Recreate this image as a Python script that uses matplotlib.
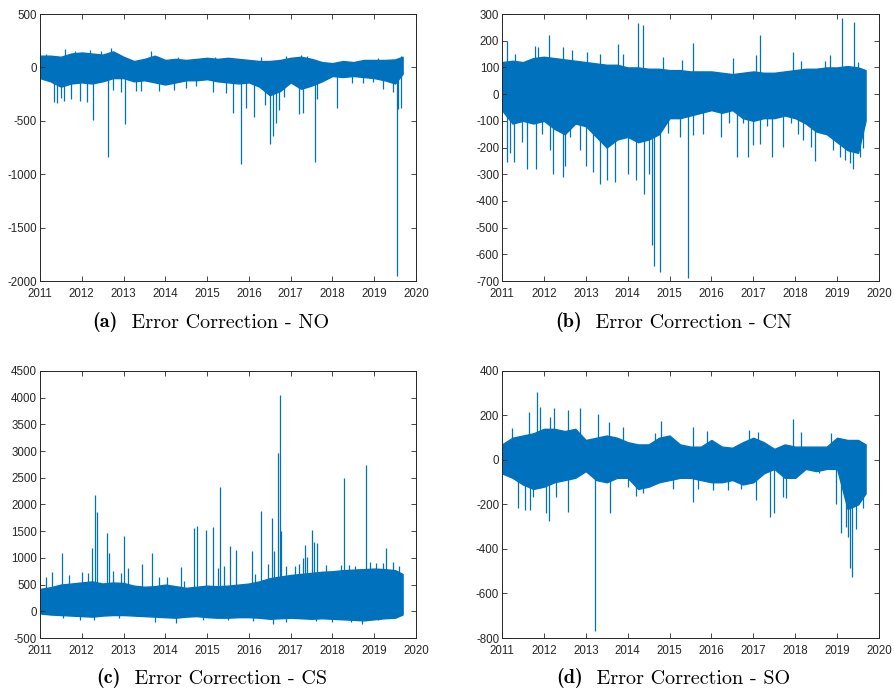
import matplotlib
matplotlib.use("Agg")
import matplotlib.pyplot as plt

plt.rcParams["font.family"] = ["Liberation Sans", "DejaVu Sans"]
plt.rcParams["axes.unicode_minus"] = False

BLUE = "#0072BD"

# quarterly grid for the dense core of each series (decimal years)
band_t = [2011.0, 2011.25, 2011.5, 2011.75, 2012.0, 2012.25, 2012.5, 2012.75,
          2013.0, 2013.25, 2013.5, 2013.75, 2014.0, 2014.25, 2014.5, 2014.75,
          2015.0, 2015.25, 2015.5, 2015.75, 2016.0, 2016.25, 2016.5, 2016.75,
          2017.0, 2017.25, 2017.5, 2017.75, 2018.0, 2018.25, 2018.5, 2018.75,
          2019.0, 2019.25, 2019.5, 2019.68]

# (a) NO
no_upper = [110, 110, 100, 130, 140, 130, 120, 150, 100, 60, 80, 110, 70, 80, 70, 80,
            90, 80, 90, 80, 70, 60, 60, 70, 90, 100, 80, 50, 40, 60, 50, 70, 70, 70, 75, 100]
no_lower = [-100, -130, -180, -150, -140, -150, -130, -100, -100, -130, -120, -140,
            -160, -140, -120, -120, -110, -130, -140, -150, -140, -180, -260, -220,
            -140, -200, -170, -130, -80, -90, -80, -90, -100, -120, -150, -60]
no_spike_t = [2011.33, 2011.41, 2011.51, 2011.57, 2011.75, 2011.97, 2012.12, 2012.27,
              2012.62, 2012.75, 2012.93, 2013.04, 2013.3, 2013.42, 2013.85, 2014.2,
              2014.5, 2014.73, 2015.15, 2015.45, 2015.61, 2015.82, 2015.93, 2016.13,
              2016.39, 2016.5, 2016.58, 2016.66, 2016.73, 2016.85, 2017.2, 2017.3,
              2017.58, 2017.64, 2018.12, 2018.48, 2018.72, 2018.96, 2019.2, 2019.44,
              2019.55, 2019.58, 2019.64,
              2011.15, 2011.6, 2011.85, 2012.2, 2012.45, 2012.7, 2012.9, 2013.65,
              2014.3, 2015.2, 2016.3, 2016.9, 2017.25, 2017.4, 2019.1, 2019.65]
no_spike_v = [-320, -330, -290, -310, -300, -310, -320, -495,
              -840, -210, -230, -530, -220, -225, -220, -210,
              -190, -170, -230, -240, -430, -900, -380, -460,
              -350, -720, -640, -520, -400, -280, -440, -430,
              -885, -300, -380, -150, -150, -140, -200, -230,
              -1950, -390, -380,
              130, 170, 150, 165, 150, 180, 130, 155,
              100, 100, 100, 110, 115, 110, 90, 110]

# (b) CN
cn_upper = [120, 125, 120, 135, 140, 135, 130, 125, 120, 115, 110, 110, 100, 100, 95, 95,
            90, 90, 85, 85, 85, 80, 75, 80, 85, 80, 80, 85, 90, 95, 95, 100, 100, 105, 100, 90]
cn_lower = [-60, -110, -100, -110, -100, -130, -150, -110, -120, -160, -200, -170,
            -160, -180, -170, -150, -90, -90, -80, -70, -60, -70, -60, -90,
            -100, -90, -90, -80, -90, -110, -140, -150, -180, -210, -220, -100]
cn_spike_t = [2011.11, 2011.19, 2011.28, 2011.47, 2011.6, 2011.81, 2011.95, 2012.14,
              2012.22, 2012.45, 2012.5, 2012.62, 2012.86, 2013.0, 2013.18, 2013.34,
              2013.5, 2013.7, 2014.02, 2014.21, 2014.38, 2014.5, 2014.57, 2014.62,
              2014.77, 2014.97, 2015.25, 2015.45, 2015.56, 2015.8, 2016.22, 2016.43,
              2016.62, 2016.75, 2016.87, 2016.99, 2017.15, 2017.33, 2017.44, 2017.71,
              2017.91, 2018.06, 2018.18, 2018.38, 2018.48, 2018.62, 2018.9, 2019.06,
              2019.18, 2019.3, 2019.38, 2019.54, 2019.62,
              2011.13, 2011.31, 2011.79, 2011.87, 2012.12, 2012.46, 2012.66, 2013.02,
              2013.34, 2013.78, 2013.9, 2014.25, 2014.36, 2014.85, 2015.29, 2015.56,
              2016.51, 2017.07, 2017.15, 2017.95, 2018.15, 2018.7, 2018.82, 2019.12,
              2019.4, 2019.5]
cn_spike_v = [-253, -220, -255, -180, -280, -280, -150, -210,
              -300, -310, -270, -160, -210, -270, -290, -335,
              -320, -330, -300, -320, -375, -300, -565, -645,
              -665, -147, -160, -690, -154, -150, -160, -110,
              -235, -110, -235, -190, -185, -120, -235, -197,
              -110, -150, -170, -197, -250, -140, -210, -235,
              -245, -258, -280, -235, -200,
              200, 152, 180, 175, 222, 177, 165, 158,
              152, 187, 150, 265, 258, 140, 127, 190,
              135, 146, 220, 156, 125, 125, 146, 285,
              271, 120]

# (c) CS
cs_upper = [420, 450, 500, 520, 540, 560, 520, 540, 530, 480, 460, 470, 500, 470, 440, 460,
            480, 470, 480, 500, 520, 560, 620, 650, 680, 700, 720, 740, 750, 770, 780, 790,
            800, 790, 770, 700]
cs_lower = [-40, -60, -70, -80, -90, -100, -80, -70, -70, -80, -90, -100,
            -110, -120, -100, -90, -110, -120, -120, -110, -110, -120, -140, -130,
            -120, -130, -140, -130, -140, -150, -160, -170, -150, -130, -120, -60]
cs_spike_t = [2011.15, 2011.28, 2011.52, 2011.7, 2012.0, 2012.15, 2012.25, 2012.32,
              2012.37, 2012.6, 2012.65, 2012.75, 2012.95, 2013.0, 2013.1, 2013.45,
              2013.68, 2013.85, 2014.05, 2014.38, 2014.45, 2014.68, 2014.75, 2014.98,
              2015.15, 2015.25, 2015.3, 2015.4, 2015.55, 2015.7, 2016.07, 2016.15,
              2016.3, 2016.45, 2016.55, 2016.6, 2016.7, 2016.75, 2016.78, 2016.9,
              2017.1, 2017.2, 2017.3, 2017.35, 2017.4, 2017.5, 2017.55, 2017.62,
              2017.85, 2018.2, 2018.27, 2018.4, 2018.55, 2018.8, 2018.9, 2019.05,
              2019.2, 2019.28, 2019.45, 2019.6,
              2011.55, 2011.97, 2012.3, 2012.9, 2013.75, 2014.25, 2014.9, 2015.5,
              2016.1, 2016.58, 2016.9, 2017.6, 2018.0, 2018.45, 2018.7, 2019.1]
cs_spike_v = [650, 730, 1100, 680, 740, 720, 1180, 2170,
              1860, 1470, 1100, 750, 720, 1410, 820, 880,
              1100, 640, 640, 830, 560, 1560, 1600, 1520,
              1570, 820, 2330, 850, 1220, 1150, 1120, 700,
              1870, 880, 1740, 1130, 2960, 4050, 1500, 850,
              850, 880, 1000, 1240, 1020, 1520, 1300, 1280,
              870, 870, 2500, 860, 840, 2740, 920, 900,
              900, 1180, 920, 850,
              -120, -160, -170, -130, -200, -220, -160, -170,
              -180, -240, -200, -190, -200, -200, -230, -170]

# (d) SO
so_upper = [70, 100, 110, 120, 140, 140, 130, 140, 90, 100, 110, 100, 80, 70, 70, 100,
            110, 70, 60, 60, 90, 60, 55, 80, 100, 80, 50, 70, 60, 60, 60, 60, 100, 90, 90, 70]
so_lower = [-60, -80, -110, -130, -120, -100, -90, -80, -50, -90, -100, -80,
            -80, -130, -120, -100, -90, -80, -80, -90, -100, -100, -90, -110,
            -100, -60, -40, -80, -80, -40, -50, -40, -40, -220, -200, -150]
so_spike_t = [2011.39, 2011.55, 2011.67, 2011.75, 2012.06, 2012.13, 2012.3, 2012.58,
              2013.22, 2013.58, 2014.02, 2014.2, 2014.37, 2015.09, 2015.55, 2015.68,
              2016.04, 2016.4, 2016.7, 2017.07, 2017.39, 2017.49, 2017.71, 2017.79,
              2018.1, 2018.58, 2018.98, 2019.1, 2019.22, 2019.27, 2019.3, 2019.35,
              2019.46, 2019.63,
              2011.23, 2011.65, 2011.84, 2011.91, 2012.14, 2012.25, 2012.58, 2012.86,
              2013.3, 2013.55, 2013.9, 2014.65, 2014.8, 2015.56, 2015.9, 2016.9,
              2017.1, 2017.95, 2018.15, 2018.85]
so_spike_v = [-217, -225, -225, -165, -240, -275, -165, -232,
              -770, -240, -120, -160, -150, -130, -190, -130,
              -135, -136, -130, -180, -255, -237, -165, -170,
              -60, -60, -200, -330, -300, -345, -485, -525,
              -310, -215,
              143, 217, 305, 240, 195, 235, 225, 232,
              205, 170, 150, 120, 175, 147, 130, 135,
              125, 183, 125, 120]

years = list(range(2011, 2021))

panels = [
    ("(a)", "Error Correction - NO", no_upper, no_lower, no_spike_t, no_spike_v,
     (-2000, 500), list(range(-2000, 501, 500))),
    ("(b)", "Error Correction - CN", cn_upper, cn_lower, cn_spike_t, cn_spike_v,
     (-700, 300), list(range(-700, 301, 100))),
    ("(c)", "Error Correction - CS", cs_upper, cs_lower, cs_spike_t, cs_spike_v,
     (-500, 4500), list(range(-500, 4501, 500))),
    ("(d)", "Error Correction - SO", so_upper, so_lower, so_spike_t, so_spike_v,
     (-800, 400), list(range(-800, 401, 200))),
]

axes_pos = [
    [0.0447, 0.5933, 0.4206, 0.3864],
    [0.5615, 0.5933, 0.4217, 0.3864],
    [0.0447, 0.0767, 0.4206, 0.3864],
    [0.5615, 0.0767, 0.4217, 0.3864],
]
caption_pos = [(0.1037, 0.520), (0.6208, 0.520), (0.1074, 0.004), (0.622, 0.004)]

fig = plt.figure(figsize=(8.94, 6.91), dpi=100)

for (tag, title, upper, lower, st, sv, ylim, yticks), pos, cpos in zip(panels, axes_pos, caption_pos):
    ax = fig.add_axes(pos)
    ax.fill_between(band_t, lower, upper, color=BLUE, linewidth=1.0, edgecolor=BLUE)
    ax.vlines(st, 0, sv, color=BLUE, linewidth=0.9)
    ax.set_xlim(2011, 2020)
    ax.set_ylim(*ylim)
    ax.set_xticks(years)
    ax.set_xticklabels([str(y) for y in years])
    ax.set_yticks(yticks)
    ax.set_yticklabels([str(v) for v in yticks])
    ax.tick_params(direction="in", top=True, right=True, length=3.5, width=0.6,
                   labelsize=8.3, colors="#262626", pad=2)
    ax.tick_params(axis="x", pad=5)
    for sp in ax.spines.values():
        sp.set_linewidth(0.7)
        sp.set_color("#262626")

    t1 = fig.text(cpos[0], cpos[1], tag, fontfamily="cmb10", fontsize=14.5,
                  ha="left", va="bottom")
    ax.annotate("  " + title, xy=(1, 0), xycoords=t1, va="bottom", ha="left",
                fontfamily="cmr10", fontsize=14.5, annotation_clip=False)

fig.savefig("out.png", dpi=100)
